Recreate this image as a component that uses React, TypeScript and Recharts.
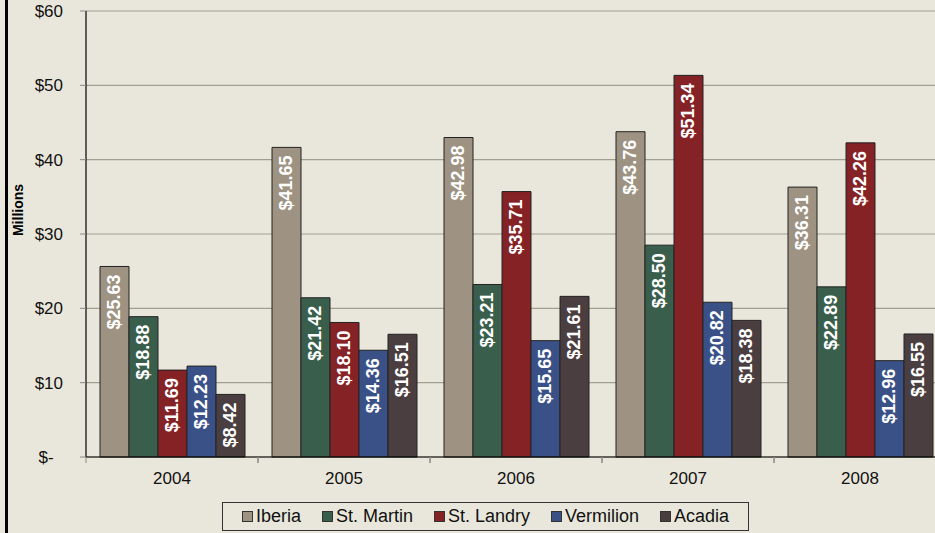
import { BarChart, Bar, XAxis, YAxis, CartesianGrid, Legend, LabelList } from 'recharts';

const years = ['2004', '2005', '2006', '2007', '2008'];
const iberia = [25.63, 41.65, 42.98, 43.76, 36.31];
const stMartin = [18.88, 21.42, 23.21, 28.5, 22.89];
const stLandry = [11.69, 18.1, 35.71, 51.34, 42.26];
const vermilion = [12.23, 14.36, 15.65, 20.82, 12.96];
const acadia = [8.42, 16.51, 21.61, 18.38, 16.55];
const yTicks = [0, 10, 20, 30, 40, 50, 60];

const series = [
  { key: 'Iberia', values: iberia, color: '#9E9282' },
  { key: 'St. Martin', values: stMartin, color: '#3A5E4C' },
  { key: 'St. Landry', values: stLandry, color: '#852226' },
  { key: 'Vermilion', values: vermilion, color: '#3A5188' },
  { key: 'Acadia', values: acadia, color: '#4B3E40' },
];

const data = years.map((year, i) => {
  const row: { [k: string]: string | number } = { year };
  series.forEach((s) => {
    row[s.key] = s.values[i];
  });
  return row;
});

const BG = '#E9E7DB';
const FONT = '"Liberation Sans", Arial, sans-serif';

const BarLabel = (props: any) => {
  const { x, y, width, value } = props;
  const cx = x + width / 2;
  return (
    <text
      x={cx}
      y={y + 8}
      transform={`rotate(-90 ${cx} ${y + 8})`}
      textAnchor="end"
      dominantBaseline="central"
      fill="#fff"
      fontWeight="bold"
      fontSize={18}
      fontFamily={FONT}
    >
      {`$${Number(value).toFixed(2)}`}
    </text>
  );
};

const YearTick = (props: any) => {
  const { x, y, payload } = props;
  const half = payload.offset || 86;
  return (
    <g>
      <line x1={x - half} x2={x - half} y1={y - 8} y2={y - 2} stroke="#888" />
      <line x1={x + half} x2={x + half} y1={y - 8} y2={y - 2} stroke="#888" />
      <text x={x} y={y + 19} textAnchor="middle" fontSize={17} fontFamily={FONT} fill="#111">
        {payload.value}
      </text>
    </g>
  );
};

const LegendBox = () => (
  <div
    style={{
      boxSizing: 'border-box',
      height: 29,
      border: '1px solid #333',
      background: BG,
      display: 'flex',
      alignItems: 'center',
      justifyContent: 'center',
      gap: 21,
      fontFamily: FONT,
      fontSize: 18,
      color: '#111',
    }}
  >
    {series.map((s) => (
      <span key={s.key} style={{ display: 'flex', alignItems: 'center' }}>
        <span
          style={{
            display: 'inline-block',
            width: 9,
            height: 9,
            background: s.color,
            border: '1px solid #333',
            marginRight: 3,
          }}
        />
        {s.key}
      </span>
    ))}
  </div>
);

export default function App() {
  return (
    <div style={{ position: 'relative', width: 935, height: 533, overflow: 'hidden', background: BG }}>
      <style>{'body{margin:0}'}</style>
      <div style={{ position: 'absolute', left: 5, top: 0, width: 3, height: 533, background: '#000' }} />
      <div style={{ position: 'absolute', left: 0, top: 0 }}>
        <BarChart
          width={950}
          height={533}
          data={data}
          margin={{ top: 11, right: 4, bottom: 7, left: 0 }}
          barCategoryGap={14}
          barGap={0}
        >
          <CartesianGrid vertical={false} stroke="#A19F91" strokeWidth={1.2} />
          <XAxis
            dataKey="year"
            height={40}
            axisLine={{ stroke: '#000', strokeWidth: 1.2 }}
            tickLine={false}
            tickSize={6}
            tickMargin={2}
            tick={<YearTick />}
            interval={0}
          />
          <YAxis
            width={86}
            domain={[0, 60]}
            ticks={yTicks}
            axisLine={{ stroke: '#000', strokeWidth: 1.2 }}
            tickLine={{ stroke: '#888' }}
            tickSize={6}
            tickMargin={17}
            tick={{ fontSize: 17, fontFamily: FONT, fill: '#111' }}
            tickFormatter={(v: number) => (v === 0 ? '$-\u00A0\u00A0' : `$${v}`)}
            label={(p: any) => {
              const vb = p.viewBox;
              const cy = vb.y + vb.height / 2 - 24;
              return (
                <text
                  x={18}
                  y={cy}
                  transform={`rotate(-90 18 ${cy})`}
                  textAnchor="middle"
                  dominantBaseline="central"
                  fontWeight="bold"
                  fontSize={14}
                  fontFamily={FONT}
                  fill="#000"
                >
                  Millions
                </text>
              );
            }}
          />
          <Legend
            content={<LegendBox />}
            wrapperStyle={{ left: 222, top: 502, bottom: 'auto', width: 527 }}
          />
          {series.map((s) => (
            <Bar
              key={s.key}
              dataKey={s.key}
              fill={s.color}
              stroke="#222"
              strokeWidth={1}
              isAnimationActive={false}
            >
              <LabelList dataKey={s.key} content={<BarLabel />} />
            </Bar>
          ))}
        </BarChart>
      </div>
    </div>
  );
}
